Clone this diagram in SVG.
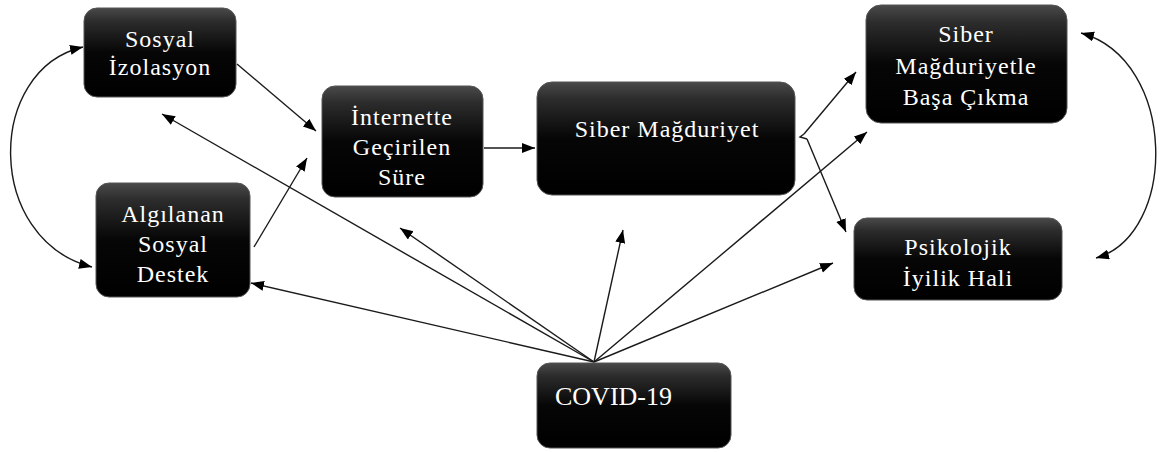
<svg xmlns="http://www.w3.org/2000/svg" width="1168" height="452" viewBox="0 0 1168 452">
<style>
.box{fill:url(#g);stroke:#555;stroke-width:1}
.t{font-family:"Liberation Serif","Times New Roman",serif;font-size:24px;fill:#fff;text-anchor:middle;letter-spacing:1px}
.c{fill:none;stroke:#1a1a1a;stroke-width:1.4}
</style>
<defs>
<linearGradient id="g" x1="0" y1="0" x2="0" y2="1">
<stop offset="0" stop-color="#4a4a4a"/>
<stop offset="0.15" stop-color="#2c2c2c"/>
<stop offset="0.5" stop-color="#060606"/>
<stop offset="1" stop-color="#000"/>
</linearGradient>
<marker id="a" markerUnits="userSpaceOnUse" markerWidth="14" markerHeight="12" refX="13" refY="5" orient="auto-start-reverse">
<path d="M0,0 L13,5 L0,10 z" fill="#000"/>
</marker>
</defs>
<g id="connectors">
<path class="c" d="M83,47 C-15,70 -15,240 92,267" marker-start="url(#a)" marker-end="url(#a)"/>
<path class="c" d="M1081,33 C1178,60 1178,235 1096,258" marker-start="url(#a)" marker-end="url(#a)"/>
<line class="c" x1="237" y1="64" x2="316" y2="131" marker-end="url(#a)"/>
<line class="c" x1="254" y1="247" x2="307" y2="158" marker-end="url(#a)"/>
<line class="c" x1="484" y1="148" x2="535" y2="148" marker-end="url(#a)"/>
<line class="c" x1="804" y1="134" x2="856" y2="72" marker-end="url(#a)"/>
<path class="c" d="M804,134 L800,137 L807,139"/>
<line class="c" x1="807" y1="139" x2="846" y2="232" marker-end="url(#a)"/>
<line class="c" x1="594" y1="362" x2="162" y2="114" marker-end="url(#a)"/>
<line class="c" x1="594" y1="362" x2="251" y2="283" marker-end="url(#a)"/>
<line class="c" x1="594" y1="362" x2="400" y2="228" marker-end="url(#a)"/>
<line class="c" x1="594" y1="362" x2="623" y2="230" marker-end="url(#a)"/>
<line class="c" x1="594" y1="362" x2="867" y2="132" marker-end="url(#a)"/>
<line class="c" x1="594" y1="362" x2="833" y2="263" marker-end="url(#a)"/>
</g>
<g id="n-sosyal-izolasyon">
<rect class="box" x="84" y="8" width="152" height="89" rx="13"/>
<text class="t" x="160" y="47">Sosyal</text>
<text class="t" x="160" y="75">İzolasyon</text>
</g>
<g id="n-algilanan">
<rect class="box" x="96" y="183" width="154" height="114" rx="13"/>
<text class="t" x="173" y="222">Algılanan</text>
<text class="t" x="173" y="252">Sosyal</text>
<text class="t" x="173" y="282">Destek</text>
</g>
<g id="n-internette">
<rect class="box" x="322" y="86" width="161" height="111" rx="13"/>
<text class="t" x="402" y="125">İnternette</text>
<text class="t" x="402" y="155">Geçirilen</text>
<text class="t" x="402" y="185">Süre</text>
</g>
<g id="n-siber-magduriyet">
<rect class="box" x="537" y="82" width="258" height="113" rx="15"/>
<text class="t" x="667" y="137">Siber Mağduriyet</text>
</g>
<g id="n-basa-cikma">
<rect class="box" x="866" y="5" width="201" height="118" rx="15"/>
<text class="t" x="966" y="42">Siber</text>
<text class="t" x="966" y="74">Mağduriyetle</text>
<text class="t" x="966" y="105">Başa Çıkma</text>
</g>
<g id="n-psikolojik">
<rect class="box" x="854" y="218" width="208" height="82" rx="13"/>
<text class="t" x="958" y="255">Psikolojik</text>
<text class="t" x="958" y="286">İyilik Hali</text>
</g>
<g id="n-covid">
<rect class="box" x="537" y="363" width="194" height="85" rx="13"/>
<text class="t" x="555" y="405" style="text-anchor:start;letter-spacing:0;font-size:26px">COVID-19</text>
</g>
</svg>
